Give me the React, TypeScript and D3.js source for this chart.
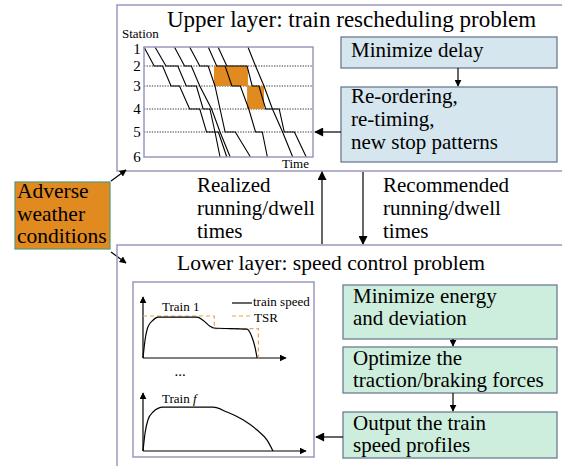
import React from "react";
import * as d3 from "d3";

// ---------- data ----------
const stationLabels = ["1", "2", "3", "4", "5", "6"];
const stationIds = [1, 2, 3, 4, 5, 6];
// train paths: [station, time]
const train1Path: [number, number][] = [[1, 0], [2, 6], [2, 11], [3, 16], [3, 21], [4, 27], [4, 33], [5, 37], [5, 44], [6, 49]];
const train2Path: [number, number][] = [[1, 6.5], [2, 13], [2, 20], [3, 25], [3, 31], [4, 35], [4, 39], [5, 42], [6, 45]];
const train3Path: [number, number][] = [[1, 18], [2, 24], [2, 28], [3, 33], [4, 40], [5, 45], [6, 51]];
const train4Path: [number, number][] = [[1, 27], [2, 33], [2, 38], [3, 42], [4, 45], [5, 48], [5, 54], [6, 63]];
const train5Path: [number, number][] = [[1, 38], [2, 43], [2, 48], [3, 52], [3, 57], [4, 62], [5, 66], [5, 70], [6, 73]];
const train6Path: [number, number][] = [[1, 43.8], [2, 49], [2, 61], [3, 64], [3, 68], [4, 72], [4, 80], [5, 83], [5, 89], [6, 96]];
const train7Path: [number, number][] = [[1, 61.5], [2, 66], [3, 71], [4, 76], [5, 82], [6, 88]];
const trainPaths = [train1Path, train2Path, train3Path, train4Path, train5Path, train6Path, train7Path];
// delayed blocks: [t0, t1, stationFrom, stationTo]
const delayBlocks: [number, number, number, number][] = [[41.4, 61.5, 2, 3], [61, 71, 3, 4]];

// speed profiles: [distance, speed]
const train1Speed: [number, number][] = [[0, 0], [1.4, 30], [3.4, 52], [6.8, 63], [10.2, 68], [36.7, 68], [40.8, 63], [45.6, 53], [48.3, 50], [70.7, 48], [74.1, 35], [76.2, 18], [77.6, 0]];
const train1TSR: [number, number][] = [[0, 70], [48.5, 70], [48.5, 49], [78.5, 49], [78.5, 0]];
const trainFSpeed: [number, number][] = [[0, 0], [1.4, 30], [3.4, 52], [6.8, 65], [13.6, 73], [47.6, 73], [57.1, 65], [68, 52], [77.6, 35], [84.4, 18], [88.4, 0]];

const upperTitle = "Upper layer: train rescheduling problem";
const lowerTitle = "Lower layer: speed control problem";
const upperBoxes = [["Minimize delay"], ["Re-ordering,", "re-timing,", "new stop patterns"]];
const lowerBoxes = [["Minimize energy", "and deviation"], ["Optimize the", "traction/braking forces"], ["Output the train", "speed profiles"]];
const adverseText = ["Adverse", "weather", "conditions"];
const realizedText = ["Realized", "running/dwell", "times"];
const recommendedText = ["Recommended", "running/dwell", "times"];

const FONT = "'Liberation Serif', 'Times New Roman', serif";

export default function App() {
  // timetable scales
  const tx = d3.scaleLinear().domain([0, 100]).range([144, 313]);
  const sy = d3.scaleLinear().domain(stationIds).range([47, 66, 86, 109, 132, 157]);
  const trainLine = d3.line<[number, number]>().x(d => tx(d[1])).y(d => sy(d[0]));

  // speed plots
  const px = d3.scaleLinear().domain([0, 100]).range([143, 290]);
  const py1 = d3.scaleLinear().domain([0, 100]).range([358, 298]);
  const pyf = d3.scaleLinear().domain([0, 100]).range([451, 391]);
  const sp1 = d3.line<[number, number]>().x(d => px(d[0])).y(d => py1(d[1])).curve(d3.curveMonotoneX);
  const tsr = d3.line<[number, number]>().x(d => px(d[0])).y(d => py1(d[1]));
  const spf = d3.line<[number, number]>().x(d => px(d[0])).y(d => pyf(d[1])).curve(d3.curveMonotoneX);

  const frame = "#9d96bb";
  const blueFill = "#d5e6ef";
  const greenFill = "#cdeedc";
  const boxStroke = "#6c7b93";

  const upperBoxGeom = [[341, 37, 216, 31], [341, 87, 216, 75]];
  const lowerBoxGeom = [[343, 285, 214, 54], [343, 347, 214, 46], [343, 412, 214, 46]];

  return (
    <svg width={562} height={466} style={{ position: "absolute", left: 0, top: 0, background: "#fff" }} fontFamily={FONT}>
      <defs>
        <marker id="ah" viewBox="0 0 10 10" refX="9" refY="5" markerWidth="10" markerHeight="9" markerUnits="userSpaceOnUse" orient="auto">
          <path d="M0,0 L10,5 L0,10 z" fill="#000" />
        </marker>
        <marker id="ahs" viewBox="0 0 10 10" refX="9" refY="5" markerWidth="7" markerHeight="7" markerUnits="userSpaceOnUse" orient="auto">
          <path d="M0,0 L10,5 L0,10 z" fill="#000" />
        </marker>
      </defs>
      <rect width={562} height={466} fill="#fff" />

      {/* Upper layer frame */}
      <rect x={117} y={5} width={460} height={166} fill="none" stroke={frame} strokeWidth={1.5} />
      <text x={167} y={27} fontSize={23}>{upperTitle}</text>

      {/* timetable */}
      <text x={122} y={38} fontSize={13}>Station</text>
      {stationIds.map((s, i) => (
        <text key={s} x={137} y={Math.max(sy(s) + 5, 54)} fontSize={15} textAnchor="middle">{stationLabels[i]}</text>
      ))}
      {stationIds.slice(1, 5).map(s => (
        <line key={s} x1={144} x2={313} y1={sy(s)} y2={sy(s)} stroke="#333" strokeWidth={1} strokeDasharray="1.3,1.3" />
      ))}
      {delayBlocks.map((b, i) => (
        <rect key={i} x={tx(b[0])} y={sy(b[2])} width={tx(b[1]) - tx(b[0])} height={sy(b[3]) - sy(b[2])} fill="#e08a20" />
      ))}
      {trainPaths.map((p, i) => (
        <path key={i} d={trainLine(p) || ""} fill="none" stroke="#000" strokeWidth={1.1} />
      ))}
      <rect x={144} y={47} width={169} height={110} fill="none" stroke={frame} strokeWidth={1.5} />
      <text x={282} y={168} fontSize={13}>Time</text>

      {/* upper boxes */}
      {upperBoxes.map((lines, i) => {
        const [x, y, w, h] = upperBoxGeom[i];
        return (
          <g key={i}>
            <rect x={x} y={y} width={w} height={h} fill={blueFill} stroke={boxStroke} strokeWidth={1.3} />
            {lines.map((l, j) => (
              <text key={j} x={x + 10} y={y + 20 + j * 23 + (i === 1 ? -4 : 0)} fontSize={21}>{l}</text>
            ))}
          </g>
        );
      })}
      <line x1={458} x2={458} y1={68} y2={86} stroke="#000" strokeWidth={1.2} markerEnd="url(#ahs)" />
      <line x1={341} x2={315} y1={132} y2={132} stroke="#000" strokeWidth={1.2} markerEnd="url(#ah)" />

      {/* adverse weather */}
      <rect x={15} y={182} width={95} height={67} fill="#e08a20" stroke="#4f9a78" strokeWidth={1.2} />
      {adverseText.map((l, i) => (
        <text key={i} x={17} y={198 + i * 22.5} fontSize={21.5}>{l}</text>
      ))}
      <line x1={111} x2={126} y1={181} y2={170} stroke="#000" strokeWidth={1.2} markerEnd="url(#ahs)" />
      <line x1={111} x2={126} y1={252} y2={263} stroke="#000" strokeWidth={1.2} markerEnd="url(#ahs)" />

      {/* middle arrows & labels */}
      {realizedText.map((l, i) => (
        <text key={i} x={197} y={192 + i * 23} fontSize={21}>{l}</text>
      ))}
      {recommendedText.map((l, i) => (
        <text key={i} x={383} y={192 + i * 23} fontSize={21}>{l}</text>
      ))}
      <line x1={322} x2={322} y1={244} y2={172} stroke="#000" strokeWidth={1.2} markerEnd="url(#ah)" />
      <line x1={363} x2={363} y1={172} y2={244} stroke="#000" strokeWidth={1.2} markerEnd="url(#ah)" />

      {/* Lower layer frame */}
      <rect x={117} y={245} width={460} height={240} fill="none" stroke={frame} strokeWidth={1.5} />
      <text x={177} y={270} fontSize={21.5}>{lowerTitle}</text>

      {/* speed plots */}
      <rect x={133} y={282} width={181} height={175} fill="none" stroke={frame} strokeWidth={1.5} />
      <line x1={px(0)} x2={px(0)} y1={py1(0)} y2={297} stroke="#000" strokeWidth={1.2} markerEnd="url(#ahs)" />
      <line x1={px(0)} x2={286} y1={py1(0)} y2={py1(0)} stroke="#000" strokeWidth={1.2} markerEnd="url(#ahs)" />
      <path d={tsr(train1TSR) || ""} fill="none" stroke="#f0a050" strokeWidth={1.2} strokeDasharray="4,3" />
      <path d={sp1(train1Speed) || ""} fill="none" stroke="#000" strokeWidth={1.2} />
      <text x={162} y={311} fontSize={13}>Train 1</text>
      <line x1={232} x2={252} y1={303} y2={303} stroke="#000" strokeWidth={1.2} />
      <text x={253} y={306} fontSize={13}>train speed</text>
      <line x1={232} x2={252} y1={py1(70)} y2={py1(70)} stroke="#f0a050" strokeWidth={1.2} strokeDasharray="4,3" />
      <text x={254} y={322} fontSize={13}>TSR</text>
      <text x={180} y={376} fontSize={15} textAnchor="middle">...</text>

      <line x1={px(0)} x2={px(0)} y1={pyf(0)} y2={393} stroke="#000" strokeWidth={1.2} markerEnd="url(#ahs)" />
      <line x1={px(0)} x2={306} y1={pyf(0)} y2={pyf(0)} stroke="#000" strokeWidth={1.2} markerEnd="url(#ahs)" />
      <path d={spf(trainFSpeed) || ""} fill="none" stroke="#000" strokeWidth={1.2} />
      <text x={162} y={403} fontSize={13}>Train <tspan fontStyle="italic">f</tspan></text>

      {/* lower boxes */}
      {lowerBoxes.map((lines, i) => {
        const [x, y, w, h] = lowerBoxGeom[i];
        return (
          <g key={i}>
            <rect x={x} y={y} width={w} height={h} fill={greenFill} stroke={boxStroke} strokeWidth={1.3} />
            {lines.map((l, j) => (
              <text key={j} x={x + 10} y={y + 18 + j * 22} fontSize={21}>{l}</text>
            ))}
          </g>
        );
      })}
      <line x1={453} x2={453} y1={339} y2={346} stroke="#000" strokeWidth={1.2} markerEnd="url(#ahs)" />
      <line x1={453} x2={453} y1={393} y2={411} stroke="#000" strokeWidth={1.2} markerEnd="url(#ahs)" />
      <line x1={343} x2={316} y1={437} y2={437} stroke="#000" strokeWidth={1.2} markerEnd="url(#ah)" />
    </svg>
  );
}
